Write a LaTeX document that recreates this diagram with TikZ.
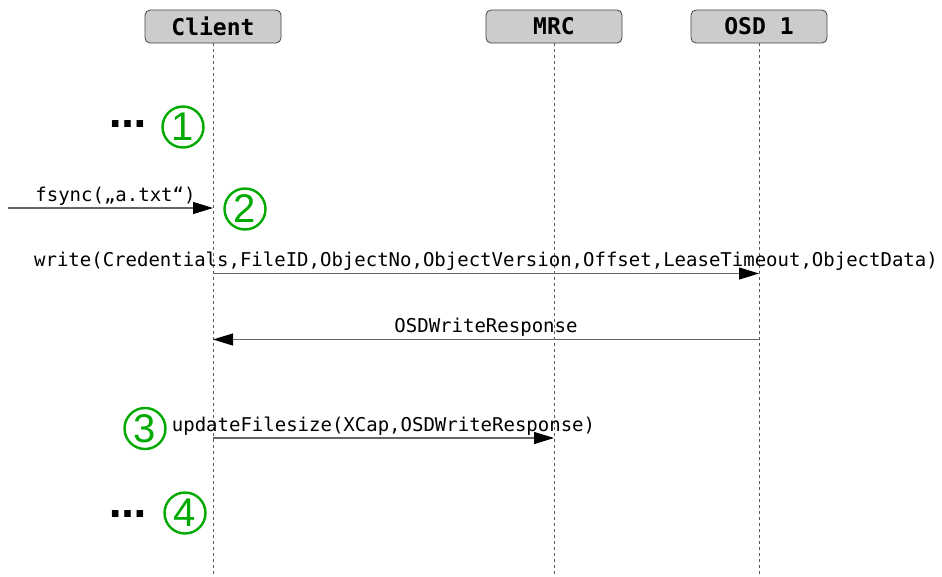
\documentclass[tikz,border=0pt]{standalone}
\usepackage{fontspec}
\setmainfont{DejaVu Sans}
\setmonofont{DejaVu Sans Mono}
\newfontfamily\digitfont{Liberation Sans}
\usetikzlibrary{arrows.meta,calc}
\definecolor{boxfill}{HTML}{CCCCCC}
\definecolor{boxline}{HTML}{444444}
\definecolor{numgreen}{HTML}{00AA00}
\begin{document}
\begin{tikzpicture}[x=1pt,y=-1pt,
  actor/.style={draw=boxline, fill=boxfill, rounded corners=5pt, minimum width=136pt, minimum height=33pt, inner sep=0pt, font=\fontsize{23}{25}\selectfont\ttfamily\bfseries, line width=0.8pt},
  lifeline/.style={draw=gray!70!black, dash pattern=on 3pt off 3pt, line width=0.9pt},
  msg/.style={draw=black!60, line width=1.1pt, -{Triangle[length=20pt,width=12pt,color=black]}},
  lbl/.style={font=\fontsize{19}{21}\selectfont\ttfamily, inner sep=0pt, anchor=base, yshift=7pt},
  num/.style={circle, draw=numgreen, line width=2.4pt, text=numgreen, minimum size=41pt, inner sep=0pt, font=\fontsize{40}{40}\selectfont\digitfont},
  dotsstyle/.style={font=\fontsize{37}{37}\selectfont\bfseries, inner sep=0pt, anchor=base}]
\useasboundingbox (0,0) rectangle (942,576);

% actors
\node[actor] (client) at (213,26.5) {Client};
\node[actor] (mrc) at (554,26.5) {MRC};
\node[actor] (osd) at (759,26.5) {OSD 1};

% lifeline ends
\coordinate (cend) at (213,576);
\coordinate (mend) at (554,576);
\coordinate (oend) at (759,576);
\draw[lifeline] (client.south) -- (cend);
\draw[lifeline] (mrc.south) -- (mend);
\draw[lifeline] (osd.south) -- (oend);

% message anchor points
\coordinate (start) at (8,208);
\coordinate (cf) at (213,208);
\coordinate (cw) at (213,273.5);
\coordinate (ow) at (759,273.5);
\coordinate (orr) at (759,339.5);
\coordinate (cr) at (213,339.5);
\coordinate (cu) at (213,438);
\coordinate (mu) at (554,438);

\draw[msg] (start) -- (cf) node[lbl, midway, xshift=5pt] {fsync(„a.txt“)};
\draw[msg] (cw) -- (ow) node[lbl, midway] {write(Credentials,FileID,ObjectNo,ObjectVersion,Offset,LeaseTimeout,ObjectData)};
\draw[msg] (orr) -- (cr) node[lbl, midway] {OSDWriteResponse};
\draw[msg] (cu) -- (mu) node[lbl, midway] {updateFilesize(XCap,OSDWriteResponse)};

% step markers
\node[dotsstyle] (d1) at (128,127.5) {…};
\node[num] (n1) at (183,127) {1};
\node[num] (n2) at (245,209) {2};
\node[num] (n3) at (145,428.5) {3};
\node[dotsstyle] (d4) at (128,517.5) {…};
\node[num] (n4) at (185,513) {4};
\end{tikzpicture}
\end{document}
